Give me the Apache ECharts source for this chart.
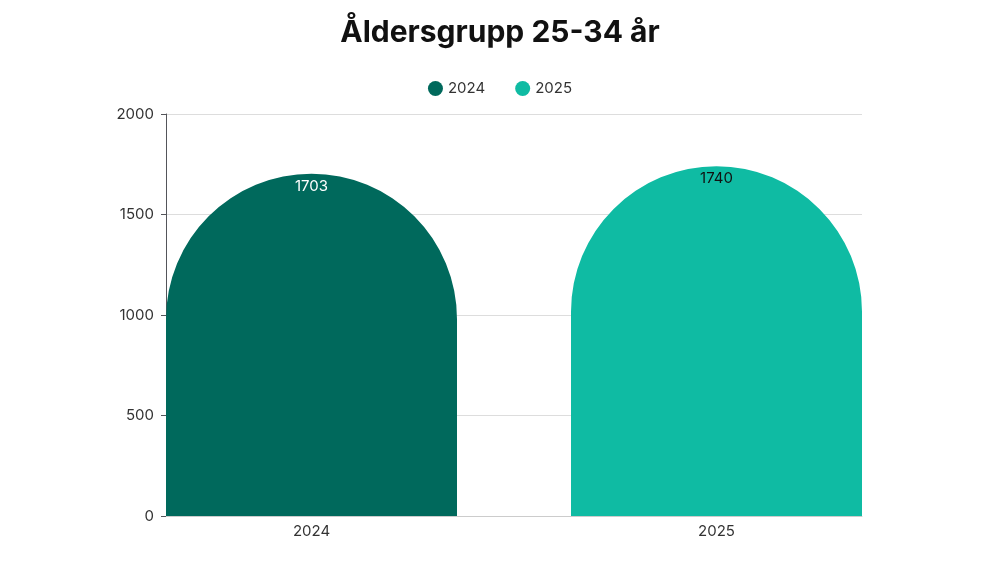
<!DOCTYPE html>
<html><head><meta charset="utf-8">
<script src="https://cdn.jsdelivr.net/npm/echarts@6/dist/echarts.min.js"></script>
<style>html,body{margin:0;padding:0;background:#fff}#c{width:1000px;height:563px}</style>
</head><body><div id="c"></div>
<script>
const categories = ['2024', '2025'];
const values2024 = [1703, '-'];
const values2025 = ['-', 1740];
const yTicks = [0, 500, 1000, 1500, 2000];
const chart = echarts.init(document.getElementById('c'));
const font = 'Inter';
const yMin = yTicks[0], yMax = yTicks[yTicks.length-1];
chart.setOption({
  animation: false,
  textStyle: { fontFamily: font },
  title: { text: 'Åldersgrupp 25-34 år', left: 'center', top: 13,
    textStyle: { fontSize: 30, fontWeight: 'bold', color: '#111', fontFamily: font } },
  legend: { top: 76, itemWidth: 15, itemHeight: 15, icon: 'circle', itemGap: 30,
    textStyle: { fontSize: 15, color: '#333' }, data: ['2024', '2025'] },
  grid: [
    { left: 166, right: 138, top: 114, bottom: 47 },
    { left: 109, right: 81, top: 114, bottom: 47 }
  ],
  xAxis: [
    { type: 'value', gridIndex: 0, show: true, min: 0, max: 1,
      axisLine: { show: true, lineStyle: { color: '#ccc' } }, axisTick: { show: false },
      axisLabel: { show: false }, splitLine: { show: false } },
    { type: 'category', gridIndex: 1, data: categories,
      axisLine: { show: false }, axisTick: { show: false },
      axisLabel: { fontSize: 15, color: '#333', margin: 8 } }
  ],
  yAxis: [
    { type: 'value', gridIndex: 0, min: yMin, max: yMax, interval: 500,
      axisLabel: { fontSize: 15, color: '#333', margin: 12, formatter: v => String(v) },
      splitLine: { lineStyle: { color: '#ddd' } } },
    { type: 'value', gridIndex: 1, min: yMin, max: yMax, interval: 500, show: false,
      splitLine: { show: false } }
  ],
  series: [
    { name: '2024', type: 'bar', stack: 's', xAxisIndex: 1, yAxisIndex: 1, data: values2024, barWidth: 291,
      itemStyle: { color: '#00695c', borderRadius: [146, 146, 0, 0] },
      label: { show: true, position: 'insideTop', offset: [0, 0], color: '#fff', fontSize: 15 } },
    { name: '2025', type: 'bar', stack: 's', xAxisIndex: 1, yAxisIndex: 1, data: values2025, barWidth: 291,
      itemStyle: { color: '#0fbba3', borderRadius: [146, 146, 0, 0] },
      label: { show: true, position: 'insideTop', offset: [0, 0], color: '#111', fontSize: 15 } }
  ]
});
</script></body></html>
